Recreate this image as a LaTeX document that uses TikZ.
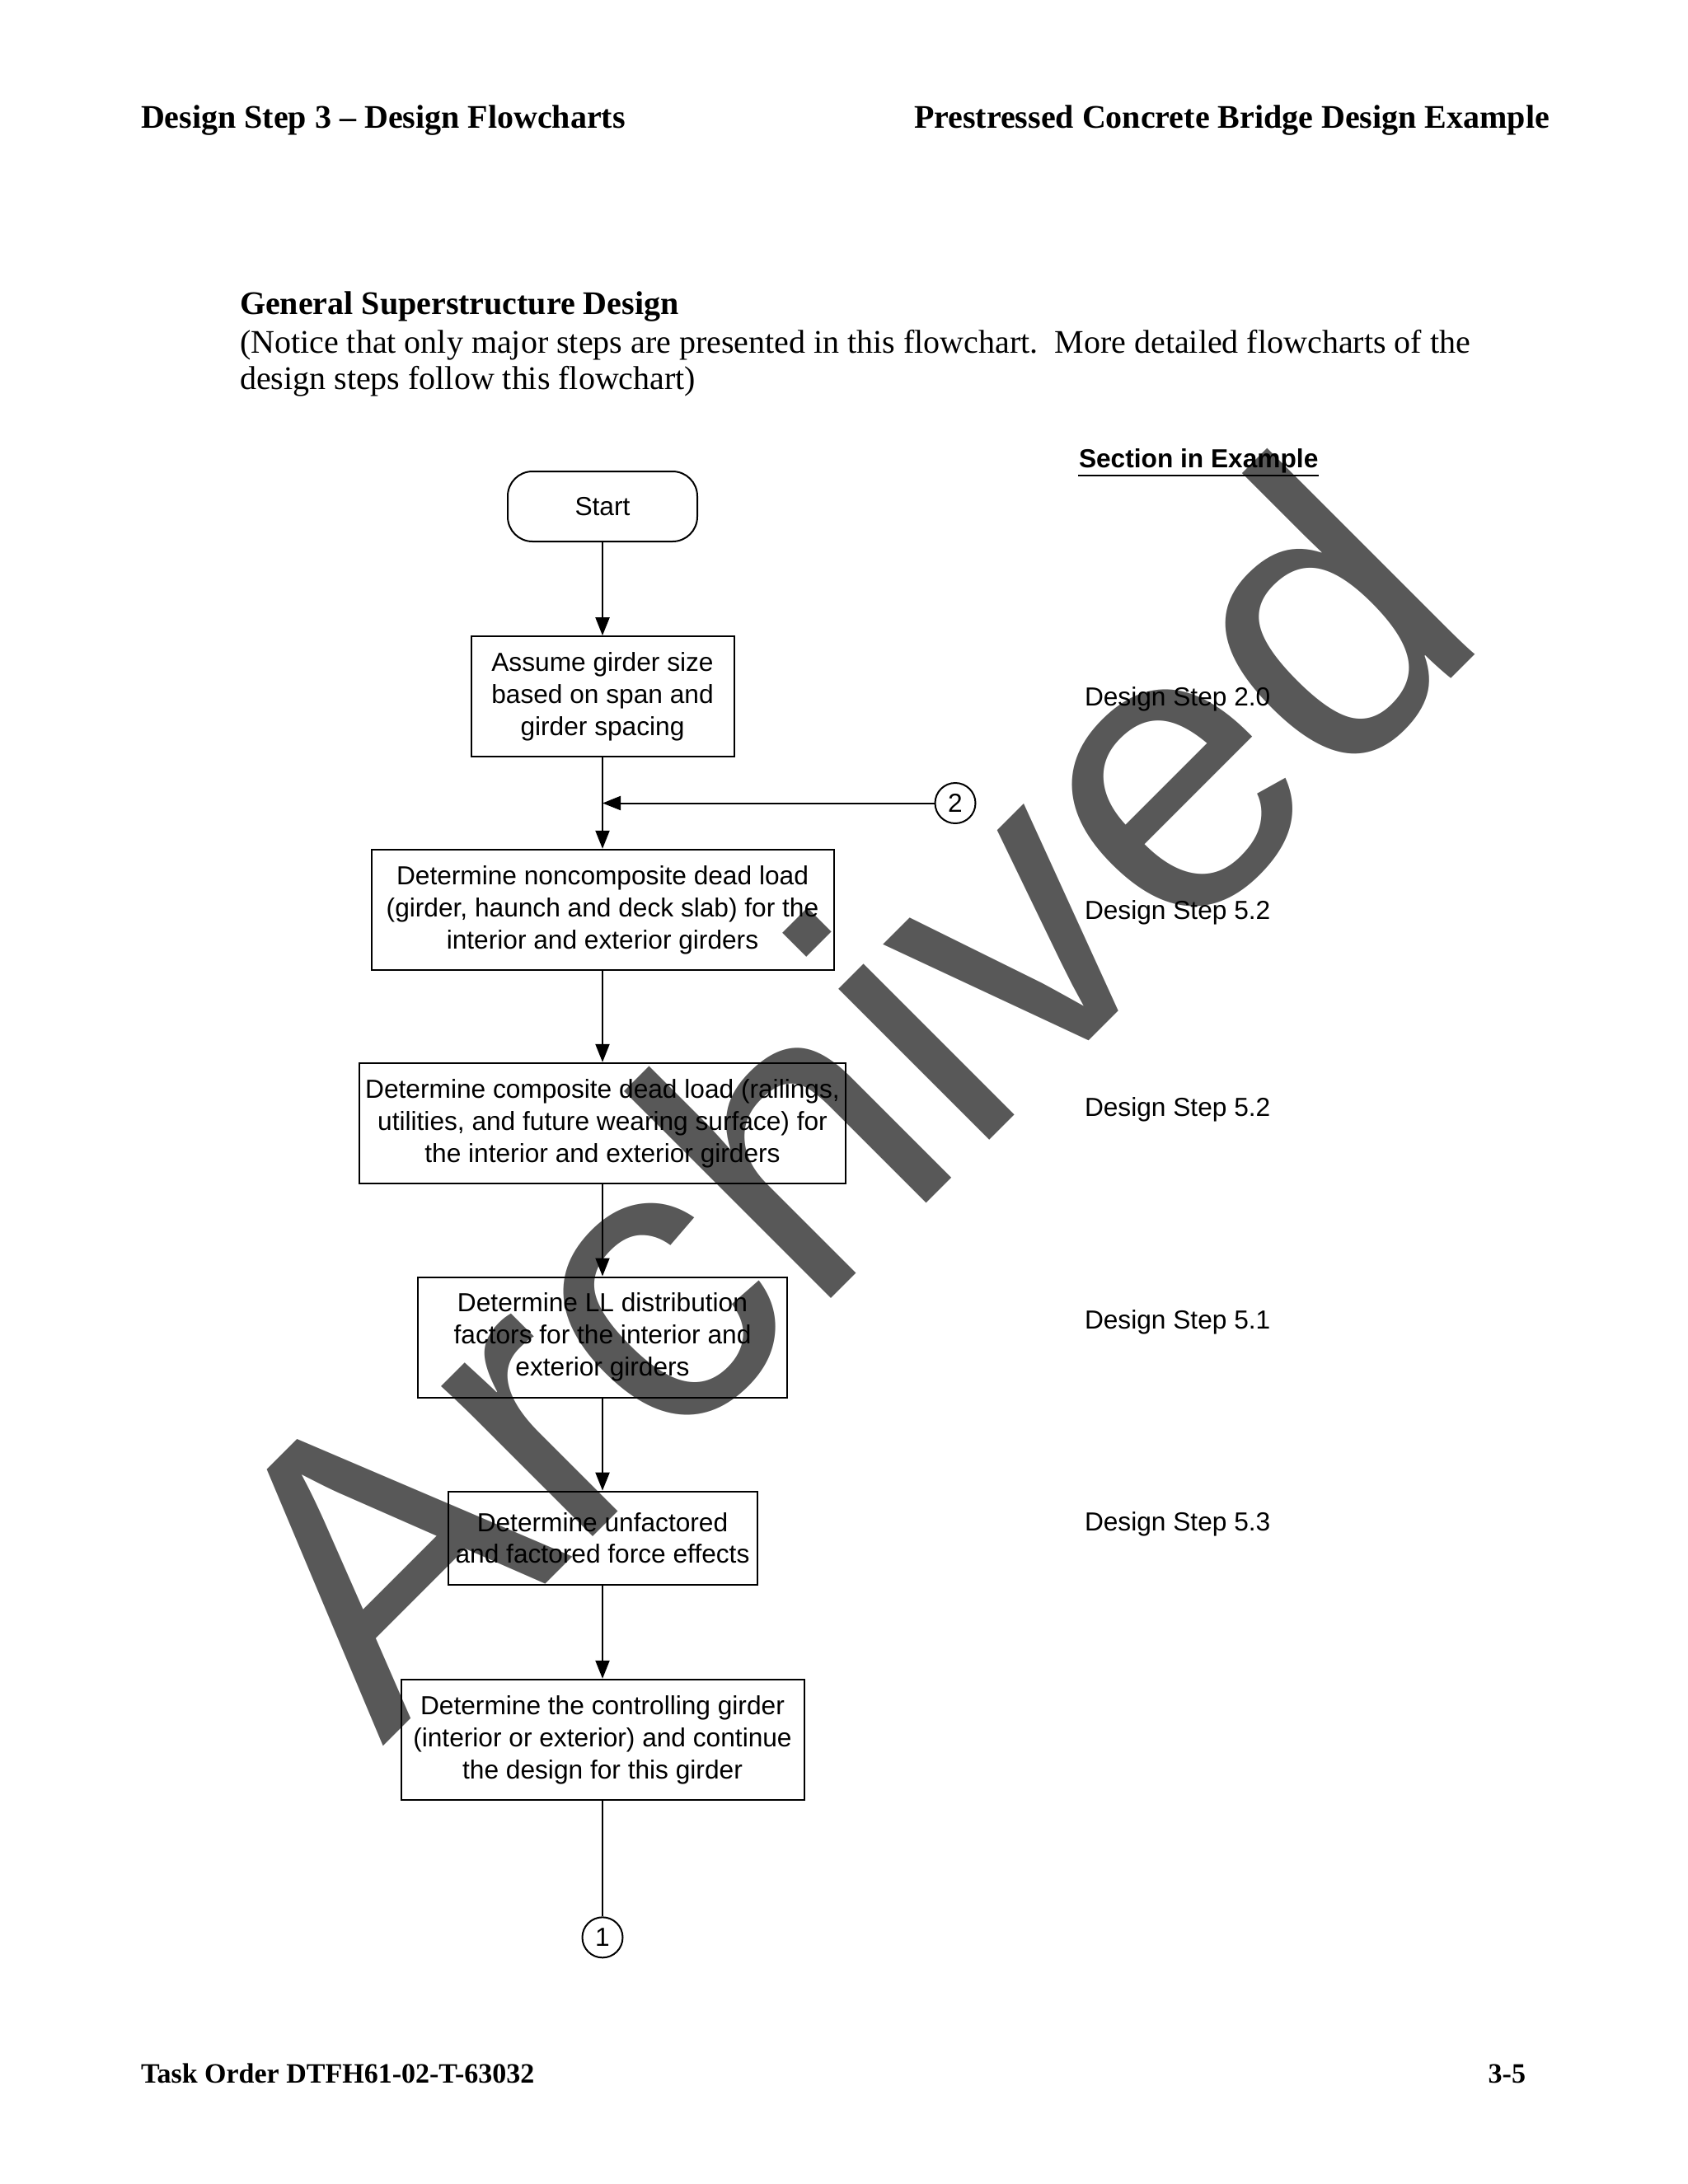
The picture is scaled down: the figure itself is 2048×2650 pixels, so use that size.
\documentclass[tikz,border=0pt]{standalone}
\usepackage{fontspec}
\setmainfont{Liberation Serif}
\setsansfont{Liberation Sans}
\usetikzlibrary{positioning,arrows.meta}
\definecolor{stampgray}{RGB}{88,88,88}

\begin{document}
\begin{tikzpicture}[x=0.3pt,y=-0.3pt,line width=0.6pt,
        >={Triangle[length=6.6pt,width=5.1pt]},
        node distance=77.7pt,on grid,
        every node/.style={inner sep=0pt},
        chart/.style={font=\sffamily\fontsize{9.5}{11.7}\selectfont},
        proc/.style={chart,draw,align=center,minimum height=43.8pt},
        term/.style={chart,draw,rounded corners=9pt,
                     minimum width=69pt,minimum height=25.5pt},
        conn/.style={chart,draw,circle,minimum size=14.7pt},
        steplabel/.style={chart,anchor=base west},
        pagetext/.style={font=\fontsize{12}{14}\selectfont,anchor=base west},
        pagebold/.style={font=\bfseries\fontsize{12}{14}\selectfont,anchor=base west},
        footbold/.style={font=\bfseries\fontsize{10.2}{12}\selectfont,anchor=base west}]
  \useasboundingbox (0,0) rectangle (2048,2650);

  % watermark behind everything
  \node[rotate=45,anchor=base west,text=stampgray,
        font=\sffamily\fontsize{147}{150}\selectfont] (stamp) at (464,2120) {Archived};

  % page texts
  \node[pagebold] (hleft) at (170,155) {Design Step 3 -- Design Flowcharts};
  \node[pagebold,anchor=base east] (hright) at (1881,155) {Prestressed Concrete Bridge Design Example};
  \node[pagebold] (title) at (290,381) {General Superstructure Design};
  \node[pagetext] (note1) at (290,428) {(Notice that only major steps are presented in this flowchart.\ \ More detailed flowcharts of the};
  \node[pagetext] (note2) at (290,472) {design steps follow this flowchart)};
  \node[footbold] (fleft) at (170,2527) {Task Order DTFH61-02-T-63032};
  \node[footbold,anchor=base east] (fright) at (1852,2527) {3-5};

  % flowchart
  \node[term] (start) at (731,614.5) {Start};
  \node[proc,minimum width=95.7pt] (assume) [below=69.2pt of start]
        {Assume girder size\\based on span and\\girder spacing};
  \node[proc,minimum width=168.3pt] (noncomp) [below=77.6pt of assume]
        {Determine noncomposite dead load\\(girder, haunch and deck slab) for the\\interior and exterior girders};
  \node[proc,minimum width=177pt] (comp) [below=of noncomp]
        {Determine composite dead load (railings,\\utilities, and future wearing surface) for\\the interior and exterior girders};
  \node[proc,minimum width=134.4pt] (llfac) [below=77.9pt of comp]
        {Determine LL distribution\\factors for the interior and\\exterior girders};
  \node[proc,minimum width=112.5pt,minimum height=33.9pt] (forces) [below=73.1pt of llfac]
        {Determine unfactored\\and factored force effects};
  \node[proc,minimum width=146.7pt] (ctrl) [below=73.4pt of forces]
        {Determine the controlling girder\\(interior or exterior) and continue\\the design for this girder};
  \node[conn] (c1) [below=72pt of ctrl] {1};
  \node[conn] (c2) at (1159,974.5) {2};

  \path[->] (start) edge (assume)
            (assume) edge (noncomp)
            (noncomp) edge (comp)
            (comp) edge (llfac)
            (llfac) edge (forces)
            (forces) edge (ctrl)
            (ctrl) edge[-] (c1);
  \draw[->] (c2) -- (c2 -| assume);

  % section column
  \node[steplabel,font=\sffamily\bfseries\fontsize{9.5}{11.7}\selectfont] (sec) at (1308,567) {Section in Example};
  \draw ([yshift=-3pt]sec.base west) -- ([yshift=-3pt]sec.base east);
  \node[steplabel] (s20) at (1315,856) {Design Step 2.0};
  \node[steplabel] (s52a) at (1315,1115) {Design Step 5.2};
  \node[steplabel] (s52b) at (1315,1354) {Design Step 5.2};
  \node[steplabel] (s51) at (1315,1612) {Design Step 5.1};
  \node[steplabel] (s53) at (1315,1857) {Design Step 5.3};
\end{tikzpicture}
\end{document}
